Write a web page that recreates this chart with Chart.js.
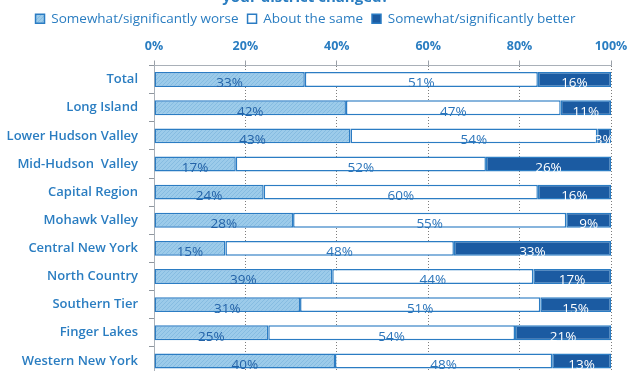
<!DOCTYPE html>
<html>
<head>
<meta charset="utf-8">
<script src="https://cdn.jsdelivr.net/npm/chart.js@4/dist/chart.umd.min.js"></script>
<style>
  html, body { margin: 0; padding: 0; background: #ffffff; }
  #wrap { position: relative; width: 628px; height: 371px; overflow: hidden; }
  #c { position: absolute; left: 0; top: -8px; }
</style>
</head>
<body>
<div id="wrap"><canvas id="c" width="628" height="383"></canvas></div>
<script>
// Regions of New York State, top to bottom
const regions = ['Total', 'Long Island', 'Lower Hudson Valley', 'Mid-Hudson  Valley', 'Capital Region',
  'Mohawk Valley', 'Central New York', 'North Country', 'Southern Tier', 'Finger Lakes', 'Western New York'];

// Share of respondents (%) as printed on each segment
const worse  = [33, 42, 43, 17, 24, 28, 15, 39, 31, 25, 40];
const same   = [51, 47, 54, 52, 60, 55, 48, 44, 51, 54, 48];
const better = [16, 11,  3, 26, 16,  9, 33, 17, 15, 21, 13];

const seriesNames = ['Somewhat/significantly worse', 'About the same', 'Somewhat/significantly better'];
const xTickValues = [0, 20, 40, 60, 80, 100];
const titleText = 'your district changed?';

const FONT = '"Open Sans", "DejaVu Sans", sans-serif';
const BLUE_TEXT = '#2a7dc1';
const EDGE = '#2b7cc3';
const DARK = '#1b5ba2';

// Each row is drawn as a 100% stacked bar: segment length = value / row total
const rowTotals = regions.map((_, i) => worse[i] + same[i] + better[i]);
const share = arr => arr.map((v, i) => v / rowTotals[i] * 100);

const canvas = document.getElementById('c');
const ctx0 = canvas.getContext('2d');

// Fine stipple texture for the "worse" segments
function hatchPattern() {
  const t = document.createElement('canvas');
  t.width = 4; t.height = 4;
  const g = t.getContext('2d');
  g.fillStyle = '#9ccbea';
  g.fillRect(0, 0, 4, 4);
  g.fillStyle = '#86bce1';
  for (let i = 0; i < 4; i++) g.fillRect(i, 3 - i, 1, 1);
  return ctx0.createPattern(t, 'repeat');
}

// Printed percentages centred on each segment
const valueLabels = {
  id: 'valueLabels',
  afterDatasetsDraw(chart) {
    const ctx = chart.ctx;
    ctx.save();
    ctx.font = '13.5px ' + FONT;
    ctx.textAlign = 'center';
    ctx.textBaseline = 'middle';
    chart.data.datasets.forEach((ds, i) => {
      const meta = chart.getDatasetMeta(i);
      meta.data.forEach((bar, j) => {
        const x = (bar.x + bar.base) / 2;
        ctx.fillStyle = i === 2 ? '#ffffff' : (i === 0 ? '#2463a8' : '#2a74ba');
        ctx.fillText(ds.printed[j] + '%', x, bar.y + 4);
      });
    });
    ctx.restore();
  }
};

const common = { borderColor: EDGE, borderWidth: 1.5, borderSkipped: false, barPercentage: 0.53, categoryPercentage: 1 };

new Chart(canvas, {
  type: 'bar',
  data: {
    labels: regions,
    datasets: [
      Object.assign({ label: seriesNames[0], data: share(worse), printed: worse, backgroundColor: hatchPattern() }, common),
      Object.assign({ label: seriesNames[1], data: share(same), printed: same, backgroundColor: '#ffffff' }, common),
      Object.assign({ label: seriesNames[2], data: share(better), printed: better, backgroundColor: DARK }, common)
    ]
  },
  options: {
    indexAxis: 'y',
    responsive: false,
    animation: false,
    devicePixelRatio: 1,
    layout: { padding: { left: 0, right: 17, top: 0, bottom: 0 } },
    plugins: {
      tooltip: { enabled: false },
      title: {
        display: true,
        text: titleText,
        color: BLUE_TEXT,
        padding: { top: 0, bottom: 0 },
        font: { family: FONT, size: 15, weight: 'bold', lineHeight: '11px' }
      },
      legend: {
        display: true,
        position: 'top',
        labels: {
          color: BLUE_TEXT,
          boxWidth: 9,
          boxHeight: 9,
          padding: 9,
          font: { family: FONT, size: 13.5 }
        }
      }
    },
    scales: {
      x: {
        stacked: true,
        position: 'top',
        min: 0,
        max: 100,
        afterBuildTicks(s) { s.ticks = xTickValues.map(v => ({ value: v })); },
        afterFit(s) { s.height = 30; s.paddingLeft = 0; s.paddingRight = 0; },
        ticks: {
          callback: v => v + '%',
          color: BLUE_TEXT,
          padding: 7,
          maxRotation: 0,
          autoSkip: false,
          font: { family: FONT, size: 12.5, weight: 'bold' }
        },
        grid: { color: '#7d7d7d', lineWidth: 1, tickLength: 5, tickColor: '#9aa0a8' },
        border: { display: true, color: '#a9b0b8', dash: [1, 2] }
      },
      y: {
        stacked: true,
        afterFit(s) { s.width = 154; s.paddingTop = 0; s.paddingBottom = 0; },
        ticks: {
          color: BLUE_TEXT,
          padding: 11,
          autoSkip: false,
          font: { family: FONT, size: 13, weight: '600' }
        },
        grid: { drawOnChartArea: false, offset: true, tickLength: 5, color: '#8f969e' },
        border: { display: true, color: '#a9b0b8' }
      }
    }
  },
  plugins: [valueLabels]
});
</script>
</body>
</html>
